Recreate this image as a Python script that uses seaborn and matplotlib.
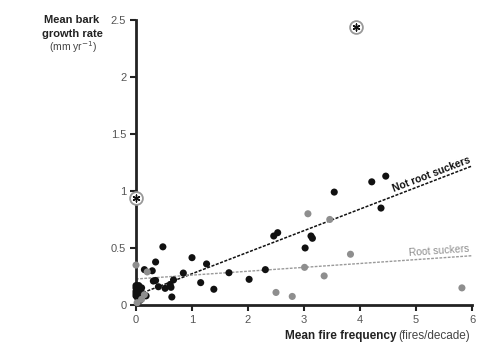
import pandas as pd
import seaborn as sns
import matplotlib.pyplot as plt

# not root suckers (black)
nrs_x = [0.0, 0.0, 0.0, 0.0, 0.0, 0.02, 0.03, 0.05, 0.08, 0.10, 0.12, 0.18, 0.05, 0.07,
         0.15, 0.29, 0.31, 0.35, 0.35, 0.40, 0.48, 0.52, 0.61, 0.625, 0.64, 0.67, 0.845,
         1.0, 1.155, 1.26, 1.39, 1.66, 2.02, 2.31, 2.46, 2.53,
         3.02, 3.125, 3.15, 3.54, 4.21, 4.375, 4.46]
nrs_y = [0.17, 0.15, 0.12, 0.10, 0.08, 0.13, 0.06, 0.09, 0.12, 0.15, 0.10, 0.08, 0.17, 0.04,
         0.31, 0.30, 0.21, 0.215, 0.377, 0.16, 0.51, 0.146, 0.18, 0.155, 0.07, 0.22, 0.28,
         0.415, 0.196, 0.36, 0.138, 0.283, 0.225, 0.31, 0.605, 0.634,
         0.50, 0.605, 0.585, 0.99, 1.08, 0.85, 1.13]

# root suckers (grey)
rs_x = [0.0, 0.2, 0.1, 0.15, 0.02, 2.5, 2.79, 3.01, 3.07, 3.36, 3.46, 3.83, 5.82]
rs_y = [0.35, 0.29, 0.05, 0.09, 0.02, 0.11, 0.075, 0.33, 0.80, 0.255, 0.75, 0.445, 0.15]

# outliers (asterisk)
out_x = [0.0, 3.93]
out_y = [0.94, 2.44]

# fitted lines: [x0, x1], intercept, slope
nrs_fit_x = [0.05, 6.0]
nrs_fit = (0.085, 0.189)
rs_fit_x = [0.0, 6.0]
rs_fit = (0.228, 0.034)

x_ticks = [0, 1, 2, 3, 4, 5, 6]
y_ticks = [0, 0.5, 1, 1.5, 2, 2.5]
y_tick_labels = ["0", "0.5", "1", "1.5", "2", "2.5"]

df = pd.DataFrame({
    "fire": nrs_x + rs_x,
    "bark": nrs_y + rs_y,
    "group": ["Not root suckers"] * len(nrs_x) + ["Root suckers"] * len(rs_x),
})

sns.set_style("white")
plt.rcParams["font.family"] = ["Liberation Sans", "DejaVu Sans"]

fig = plt.figure(figsize=(5, 3.62), dpi=100)
ax = fig.add_axes([0.272, 0.1575, 0.672, 0.7875])

black = "#111111"
grey = "#8e8e8e"

# lines
ax.plot(nrs_fit_x, [nrs_fit[0] + nrs_fit[1] * x for x in nrs_fit_x],
        ls=(0, (2, 1)), color=black, lw=1.1, zorder=2)
ax.plot(rs_fit_x, [rs_fit[0] + rs_fit[1] * x for x in rs_fit_x],
        ls=(0, (2, 1)), color="#9a9a9a", lw=1.0, zorder=2)

sns.scatterplot(data=df, x="fire", y="bark", hue="group",
                palette={"Not root suckers": black, "Root suckers": grey},
                s=26, edgecolor="none", legend=False, ax=ax, clip_on=False, zorder=3)

ax.scatter(out_x, out_y, s=85, facecolor="white", edgecolor="#999999", lw=1.3,
           clip_on=False, zorder=4)
ax.scatter(out_x, out_y, s=24, marker=(6, 2, 0), color=black, lw=1.0,
           clip_on=False, zorder=5)

ax.set_xlim(0, 6)
ax.set_ylim(0, 2.5)
ax.set_xticks(x_ticks)
ax.set_yticks(y_ticks)
ax.set_yticklabels(y_tick_labels)
ax.set_xlabel("")
ax.set_ylabel("")

for side in ["top", "right"]:
    ax.spines[side].set_visible(False)
for side in ["left", "bottom"]:
    ax.spines[side].set_linewidth(2)
    ax.spines[side].set_color("#222222")
ax.tick_params(axis="both", direction="out", length=4, width=1.5, color="#222222",
               labelsize=8, labelcolor="#555555", pad=3, left=True, bottom=True)

ax.text(5.3, 1.10, "Not root suckers", rotation=21, fontsize=7.5, fontweight="bold",
        color=black, ha="center", va="bottom", rotation_mode="anchor")
ax.text(5.41, 0.43, "Root suckers", rotation=4, fontsize=7.5, color=grey,
        ha="center", va="bottom", rotation_mode="anchor")

fig.text(0.144, 1 - 20 / 362, "Mean bark", ha="center", va="center",
         fontsize=8, fontweight="bold", color="#222222")
fig.text(0.144, 1 - 34 / 362, "growth rate", ha="center", va="center",
         fontsize=8, fontweight="bold", color="#222222")
fig.text(0.147, 1 - 47.5 / 362, "(mm yr$^{\u22121}$)", ha="center", va="center",
         fontsize=7.5, color="#444444")

fig.text(0.793, 1 - 336.5 / 362, "Mean fire frequency", ha="right", va="center",
         fontsize=8.5, fontweight="bold", color="#222222")
fig.text(0.797, 1 - 336.5 / 362, "(fires/decade)", ha="left", va="center",
         fontsize=8.5, color="#444444")

fig.savefig("out.png", dpi=100)
